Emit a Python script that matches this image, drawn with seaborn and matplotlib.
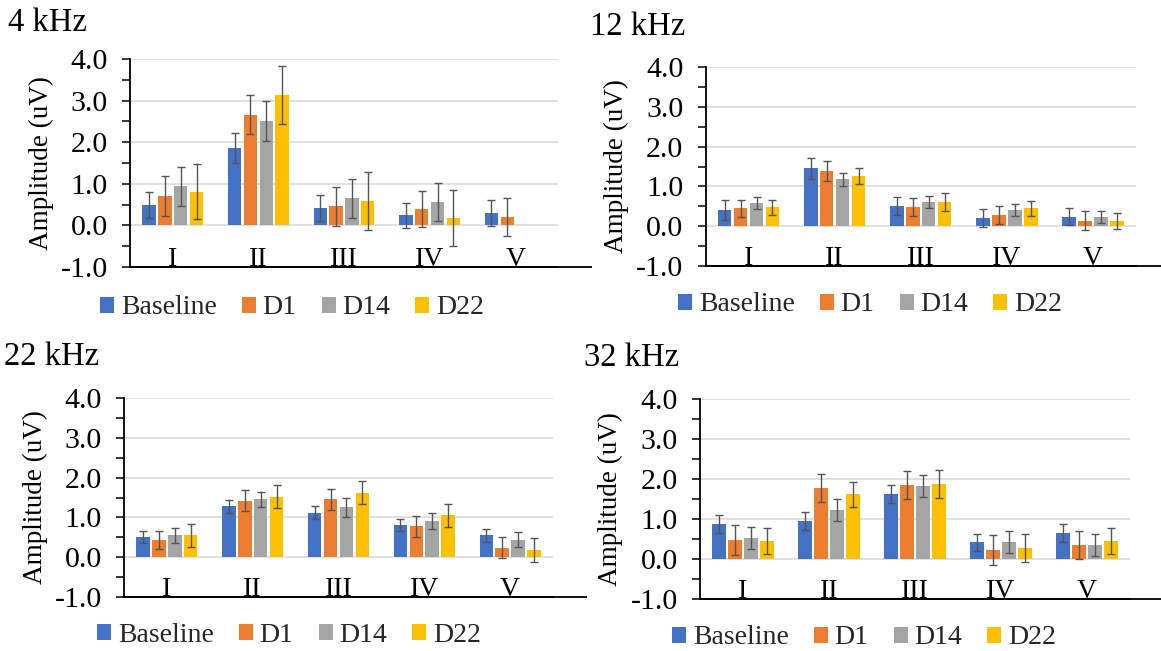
import numpy as np
import pandas as pd
import matplotlib
matplotlib.use("Agg")
import matplotlib.pyplot as plt
from matplotlib.patches import Patch
from matplotlib.ticker import MultipleLocator, FormatStrFormatter
import seaborn as sns

nan = np.nan

stages = ["I", "II", "III", "IV", "V"]
groups = ["Baseline", "D1", "D14", "D22"]
colors = ["#4472C4", "#ED7D31", "#A5A5A5", "#FFC000"]

# 4 kHz: mean wave amplitude (uV) and error per stage
amp_4k_baseline = [0.49, 1.86, 0.42, 0.24, 0.30]
amp_4k_d1 = [0.70, 2.66, 0.46, 0.39, 0.20]
amp_4k_d14 = [0.94, 2.50, 0.65, 0.56, nan]
amp_4k_d22 = [0.81, 3.14, 0.59, 0.17, nan]
err_4k_baseline = [0.31, 0.35, 0.31, 0.30, 0.31]
err_4k_d1 = [0.48, 0.47, 0.47, 0.44, 0.45]
err_4k_d14 = [0.47, 0.48, 0.47, 0.46, nan]
err_4k_d22 = [0.66, 0.70, 0.69, 0.67, nan]

# 12 kHz
amp_12k_baseline = [0.41, 1.45, 0.51, 0.21, 0.24]
amp_12k_d1 = [0.45, 1.39, 0.48, 0.28, 0.14]
amp_12k_d14 = [0.58, 1.18, 0.61, 0.41, 0.24]
amp_12k_d22 = [0.48, 1.25, 0.61, 0.45, 0.14]
err_12k_baseline = [0.26, 0.26, 0.23, 0.22, 0.22]
err_12k_d1 = [0.22, 0.26, 0.23, 0.22, 0.23]
err_12k_d14 = [0.16, 0.16, 0.16, 0.16, 0.15]
err_12k_d22 = [0.19, 0.20, 0.23, 0.19, 0.20]

# 22 kHz
amp_22k_baseline = [0.51, 1.28, 1.12, 0.81, 0.55]
amp_22k_d1 = [0.44, 1.42, 1.45, 0.78, 0.24]
amp_22k_d14 = [0.55, 1.45, 1.25, 0.91, 0.44]
amp_22k_d22 = [0.55, 1.52, 1.62, 1.05, 0.18]
err_22k_baseline = [0.16, 0.16, 0.16, 0.16, 0.16]
err_22k_d1 = [0.23, 0.26, 0.26, 0.26, 0.26]
err_22k_d14 = [0.19, 0.19, 0.23, 0.19, 0.19]
err_22k_d22 = [0.29, 0.29, 0.29, 0.29, 0.29]

# 32 kHz
amp_32k_baseline = [0.88, 0.95, 1.62, 0.42, 0.65]
amp_32k_d1 = [0.48, 1.78, 1.85, 0.22, 0.35]
amp_32k_d14 = [0.52, 1.22, 1.82, 0.42, 0.35]
amp_32k_d22 = [0.45, 1.62, 1.88, 0.28, 0.45]
err_32k_baseline = [0.22, 0.22, 0.22, 0.21, 0.22]
err_32k_d1 = [0.38, 0.35, 0.35, 0.38, 0.35]
err_32k_d14 = [0.28, 0.28, 0.28, 0.28, 0.28]
err_32k_d22 = [0.32, 0.31, 0.35, 0.35, 0.32]

sns.set_theme(style="white")
plt.rcParams["font.family"] = ["Liberation Serif", "DejaVu Serif"]
plt.rcParams["axes.unicode_minus"] = False

W, H = 1161, 651
fig = plt.figure(figsize=(W / 100, H / 100), dpi=100)
fig.patch.set_facecolor("white")


def px_rect(left, top, right, bottom):
    return [left / W, 1 - bottom / H, (right - left) / W, (bottom - top) / H]


panels = [
    dict(title="4 kHz",
         amps=[amp_4k_baseline, amp_4k_d1, amp_4k_d14, amp_4k_d22],
         errs=[err_4k_baseline, err_4k_d1, err_4k_d14, err_4k_d22],
         rect=px_rect(130, 59, 558, 267), title_xy=(8, 23), legend_xy=(292, 308)),
    dict(title="12 kHz",
         amps=[amp_12k_baseline, amp_12k_d1, amp_12k_d14, amp_12k_d22],
         errs=[err_12k_baseline, err_12k_d1, err_12k_d14, err_12k_d22],
         rect=px_rect(705.5, 67, 1136, 266), title_xy=(590, 27), legend_xy=(870, 305)),
    dict(title="22 kHz",
         amps=[amp_22k_baseline, amp_22k_d1, amp_22k_d14, amp_22k_d22],
         errs=[err_22k_baseline, err_22k_d1, err_22k_d14, err_22k_d22],
         rect=px_rect(124, 398, 553, 597), title_xy=(4, 357), legend_xy=(289, 635)),
    dict(title="32 kHz",
         amps=[amp_32k_baseline, amp_32k_d1, amp_32k_d14, amp_32k_d22],
         errs=[err_32k_baseline, err_32k_d1, err_32k_d14, err_32k_d22],
         rect=px_rect(700, 399, 1130, 599), title_xy=(584, 358), legend_xy=(864, 638)),
]

for p in panels:
    ax = fig.add_axes(p["rect"])
    rows = []
    for g, vals in zip(groups, p["amps"]):
        for s, v in zip(stages, vals):
            rows.append({"stage": s, "group": g, "amp": v})
    df = pd.DataFrame(rows)

    sns.barplot(data=df, x="stage", y="amp", hue="group", order=stages,
                hue_order=groups, palette=colors, saturation=1, width=0.74,
                gap=0.15, errorbar=None, linewidth=0, legend=False, ax=ax)

    # error bars centred on each drawn bar
    for cont, errs in zip(ax.containers, p["errs"]):
        for bar in cont:
            h = bar.get_height()
            if not np.isfinite(h):
                continue
            x = bar.get_x() + bar.get_width() / 2
            e = errs[int(round(x))]
            if not np.isfinite(e):
                continue
            ax.errorbar(x, h, yerr=e, fmt="none", ecolor="#555555",
                        elinewidth=1.0, capsize=2.6, capthick=1.0, zorder=4)

    ax.set_xlim(-0.5, 4.5)
    ax.set_ylim(-1, 4)
    ax.yaxis.set_major_locator(MultipleLocator(1.0))
    ax.yaxis.set_minor_locator(MultipleLocator(0.5))
    ax.yaxis.set_major_formatter(FormatStrFormatter("%.1f"))
    ax.grid(axis="y", which="major", color="#d9d9d9", linewidth=1.1)
    ax.grid(axis="x", visible=False)
    ax.set_axisbelow(True)
    for side in ("top", "right"):
        ax.spines[side].set_visible(False)
    for side in ("left", "bottom"):
        ax.spines[side].set_color("black")
        ax.spines[side].set_linewidth(1.3)
    # the category axis line runs a little past the plot area
    ax.plot([0, 1.08], [0, 0], transform=ax.transAxes, color="black",
            lw=1.3, clip_on=False, solid_capstyle="butt", zorder=5)

    ax.tick_params(axis="y", which="both", left=True, direction="out",
                   length=6, width=1.1, color="black")
    ax.tick_params(axis="y", which="major", labelsize=21.5, pad=10,
                   labelcolor="black")
    ax.tick_params(axis="x", length=0, labelsize=20, pad=-1,
                   labelcolor="black")
    for lab in ax.get_xticklabels():
        lab.set_verticalalignment("baseline")

    ax.set_xlabel("")
    ax.set_ylabel("Amplitude (uV)", fontsize=19.5, color="black")
    ax.yaxis.set_label_coords(-0.178, 0.5)

    handles = [Patch(facecolor=c, edgecolor="none", label=g)
               for g, c in zip(groups, colors)]
    lx, ly = p["legend_xy"]
    ax.legend(handles=handles, loc="center", bbox_to_anchor=(lx / W, 1 - ly / H),
              bbox_transform=fig.transFigure, ncol=4, frameon=False,
              fontsize=20, handlelength=0.5, handleheight=0.5,
              handletextpad=0.25, columnspacing=0.9, borderpad=0,
              borderaxespad=0)

    tx, ty = p["title_xy"]
    fig.text(tx / W, 1 - ty / H, p["title"], ha="left", va="center",
             fontsize=23.5, color="black")

fig.savefig("out.png", dpi=100, facecolor="white")
